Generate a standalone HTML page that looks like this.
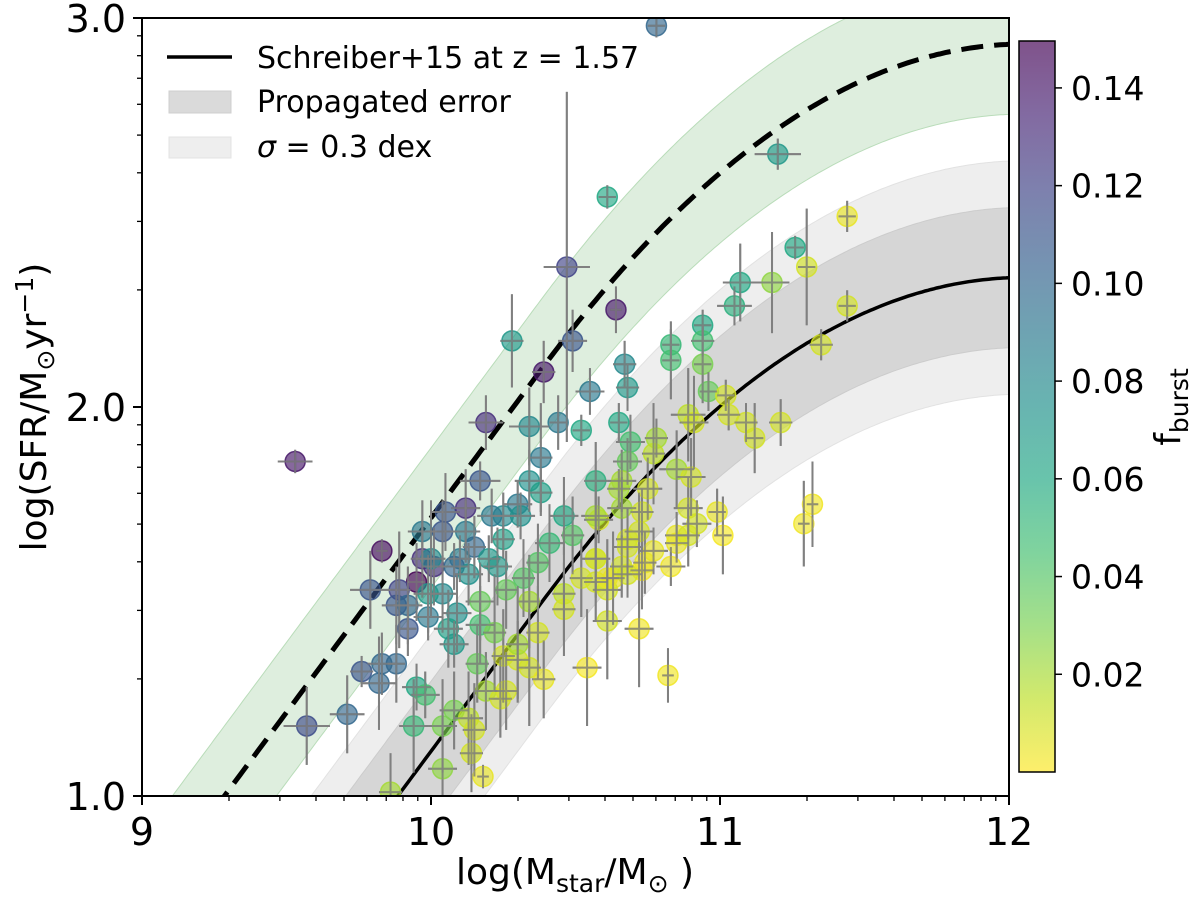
<!DOCTYPE html>
<html><head><meta charset="utf-8"><style>
html,body{margin:0;padding:0;background:#fff;overflow:hidden;width:1200px;height:907px;}
svg{display:block;font-family:"DejaVu Sans","Liberation Sans",sans-serif;}
</style></head><body>
<svg id="chart" width="1200" height="907" viewBox="0 0 1200 907" xmlns="http://www.w3.org/2000/svg">
<defs>
<clipPath id="plotclip"><rect x="142" y="18" width="867" height="778"/></clipPath>
<linearGradient id="cbgrad" x1="0" y1="1" x2="0" y2="0"></linearGradient>
</defs>
<g id="bands" clip-path="url(#plotclip)"></g>
<g id="curves" clip-path="url(#plotclip)"></g>
<g id="errs" clip-path="url(#plotclip)"></g>
<g id="pts" clip-path="url(#plotclip)"></g>
<rect x="142" y="18" width="867" height="778" fill="none" stroke="#000" stroke-width="2"/>
<g id="axes"></g>
<g id="legend">
  <line x1="167" y1="57" x2="232" y2="57" stroke="#000" stroke-width="3.5"/>
  <text x="257" y="68" font-size="30">Schreiber+15 at z = 1.57</text>
  <rect x="169" y="91" width="62" height="22" fill="#dadada" stroke="#cfcfcf"/>
  <text x="257" y="112" font-size="30">Propagated error</text>
  <rect x="169" y="137" width="62" height="21" fill="#eeeeee" stroke="#e3e3e3"/>
  <text x="257" y="157" font-size="30"><tspan font-style="italic">σ</tspan> = 0.3 dex</text>
</g>
<text x="575" y="884" font-size="36" text-anchor="middle">log(M<tspan font-size="25" dy="8">star</tspan><tspan dy="-8">/M</tspan><tspan font-size="25" dy="8">⊙</tspan><tspan dy="-8"> )</tspan></text>
<text transform="translate(46,407) rotate(-90)" font-size="36" text-anchor="middle">log(SFR/M<tspan font-size="25" dy="8">⊙</tspan><tspan dy="-8">yr</tspan><tspan font-size="25" dy="-13">−1</tspan><tspan dy="13">)</tspan></text>
<g id="cbar"></g>
<text transform="translate(1180,407) rotate(-90)" font-size="36" text-anchor="middle">f<tspan font-size="25" dy="8">burst</tspan></text>
</svg>
<script>
// ---- data ----
const mass = [10.78,10.61,11.20,10.47,10.64,10.28,10.49,10.39,10.67,10.68,10.55,11.44,11.26,11.30,11.18,11.07,11.05,11.44,11.35,10.94,10.94,10.94,10.83,10.83,10.96,10.19,10.34,10.44,10.52,10.65,10.38,10.17,10.34,10.38,10.30,10.25,10.31,10.25,10.57,10.69,10.68,11.02,11.03,11.09,11.12,11.21,10.89,10.91,10.78,10.77,10.85,10.90,10.75,10.73,10.89,10.99,10.92,11.01,10.85,11.32,11.29,10.58,10.65,10.72,10.68,10.77,10.83,10.73,10.57,10.63,10.72,10.82,10.61,10.85,10.89,10.61,10.68,10.05,10.12,10.21,9.97,10.04,10.12,10.15,10.10,10.20,9.97,10.01,10.08,10.13,10.23,9.95,9.89,9.88,9.92,10.04,10.09,9.99,9.92,10.06,10.08,10.17,10.17,10.22,9.88,10.16,9.95,9.98,9.94,10.04,10.08,10.13,10.15,10.19,10.24,10.26,10.14,10.04,10.18,10.25,10.30,10.34,10.39,10.30,10.37,10.26,10.32,10.37,10.41,10.46,10.49,10.34,10.46,10.46,10.52,10.57,10.57,10.61,10.54,10.57,10.66,10.66,10.68,10.66,10.74,9.86,9.53,9.83,9.79,9.76,9.83,9.82,9.71,9.57,10.00,9.99];
const sfr = [2.98,2.54,2.65,2.36,2.25,2.17,2.17,2.09,2.11,2.05,2.04,2.49,2.41,2.36,2.32,2.32,2.26,2.26,2.16,2.21,2.17,2.11,2.16,2.12,2.04,1.96,1.95,1.96,1.94,1.96,1.87,1.81,1.81,1.78,1.75,1.72,1.72,1.66,1.81,1.91,1.86,2.03,1.98,1.96,1.92,1.96,1.98,1.96,1.92,1.88,1.84,1.82,1.79,1.73,1.74,1.73,1.70,1.67,1.67,1.75,1.70,1.71,1.79,1.68,1.64,1.63,1.59,1.58,1.61,1.56,1.43,1.31,1.45,1.65,1.67,1.53,1.57,1.73,1.74,1.72,1.68,1.68,1.68,1.64,1.61,1.61,1.61,1.59,1.59,1.57,1.59,1.55,1.53,1.49,1.49,1.52,1.47,1.46,1.43,1.43,1.39,1.50,1.44,1.42,1.34,1.34,1.28,1.26,1.18,1.18,1.22,1.20,1.17,1.27,1.25,1.27,1.11,1.07,1.05,1.36,1.35,1.33,1.30,1.39,1.42,1.53,1.56,1.60,1.65,1.72,1.67,1.50,1.52,1.48,1.56,1.61,1.55,1.56,1.33,1.72,1.74,1.81,1.66,1.59,1.60,1.01,1.86,1.63,1.53,1.32,1.34,1.29,1.21,1.18,1.61,1.52];
const fburst = [0.10,0.06,0.07,0.12,0.14,0.07,0.11,0.14,0.08,0.07,0.09,0.005,0.06,0.01,0.025,0.06,0.055,0.01,0.01,0.06,0.045,0.03,0.05,0.045,0.035,0.13,0.08,0.09,0.06,0.06,0.09,0.11,0.075,0.065,0.09,0.08,0.075,0.065,0.055,0.045,0.035,0.01,0.01,0.01,0.01,0.01,0.015,0.01,0.02,0.015,0.02,0.01,0.01,0.01,0.01,0.005,0.01,0.002,0.005,0.003,0.003,0.01,0.02,0.01,0.01,0.005,0.003,0.002,0.01,0.005,0.003,0.003,0.01,0.005,0.01,0.01,0.01,0.11,0.13,0.09,0.09,0.11,0.09,0.10,0.09,0.07,0.13,0.13,0.10,0.075,0.07,0.15,0.12,0.11,0.10,0.08,0.075,0.09,0.11,0.065,0.07,0.035,0.045,0.03,0.10,0.035,0.06,0.045,0.05,0.03,0.03,0.015,0.01,0.02,0.01,0.01,0.01,0.025,0.005,0.01,0.01,0.01,0.005,0.02,0.01,0.035,0.04,0.04,0.05,0.06,0.04,0.02,0.015,0.01,0.01,0.01,0.01,0.005,0.002,0.02,0.02,0.02,0.01,0.01,0.005,0.02,0.14,0.145,0.11,0.11,0.10,0.10,0.10,0.115,0.08,0.07];
const massErr = [0.03,0.03,0.08,0.08,0.02,0.04,0.05,0.04,0.04,0.04,0.05,0.03,0.03,0.03,0.06,0.06,0.06,0.03,0.04,0.03,0.04,0.03,0.03,0.03,0.03,0.06,0.07,0.03,0.03,0.03,0.04,0.07,0.05,0.04,0.05,0.05,0.05,0.04,0.04,0.05,0.05,0.03,0.04,0.04,0.03,0.04,0.06,0.05,0.04,0.04,0.06,0.05,0.05,0.04,0.05,0.03,0.05,0.03,0.04,0.02,0.02,0.05,0.04,0.05,0.05,0.05,0.05,0.04,0.05,0.04,0.05,0.02,0.05,0.04,0.04,0.05,0.05,0.05,0.05,0.05,0.05,0.05,0.05,0.04,0.04,0.04,0.04,0.04,0.05,0.05,0.05,0.03,0.04,0.05,0.05,0.05,0.05,0.05,0.03,0.05,0.05,0.05,0.05,0.04,0.03,0.04,0.05,0.05,0.05,0.05,0.05,0.05,0.04,0.04,0.04,0.04,0.04,0.05,0.02,0.04,0.04,0.04,0.04,0.04,0.04,0.04,0.04,0.04,0.05,0.05,0.04,0.04,0.04,0.04,0.04,0.04,0.04,0.04,0.05,0.05,0.05,0.05,0.04,0.04,0.04,0.04,0.06,0.02,0.07,0.04,0.05,0.06,0.06,0.08,0.05,0.05];
const sfrErr = [0.03,0.03,0.04,0.45,0.06,0.12,0.08,0.08,0.06,0.06,0.06,0.04,0.03,0.15,0.13,0.10,0.05,0.04,0.04,0.04,0.04,0.10,0.04,0.10,0.05,0.07,0.10,0.07,0.04,0.05,0.14,0.05,0.08,0.06,0.06,0.06,0.06,0.05,0.10,0.07,0.06,0.04,0.04,0.05,0.09,0.06,0.12,0.12,0.05,0.13,0.10,0.10,0.08,0.06,0.08,0.06,0.06,0.10,0.06,0.11,0.11,0.06,0.05,0.10,0.10,0.06,0.05,0.10,0.08,0.12,0.15,0.07,0.15,0.05,0.08,0.08,0.06,0.10,0.10,0.07,0.08,0.08,0.08,0.08,0.06,0.06,0.10,0.10,0.06,0.08,0.10,0.10,0.15,0.10,0.10,0.10,0.10,0.06,0.07,0.10,0.06,0.10,0.10,0.15,0.10,0.10,0.06,0.06,0.12,0.12,0.10,0.12,0.12,0.10,0.10,0.10,0.10,0.15,0.03,0.12,0.10,0.15,0.10,0.15,0.12,0.10,0.10,0.10,0.10,0.10,0.10,0.12,0.12,0.12,0.10,0.10,0.10,0.10,0.15,0.08,0.08,0.08,0.08,0.08,0.08,0.10,0.03,0.03,0.10,0.04,0.08,0.12,0.10,0.10,0.15,0.10];
const xTicks = [9,10,11,12];
const xTickLabels = ["9","10","11","12"];
const yTicks = [1,2,3];
const yTickLabels = ["1.0","2.0","3.0"];
const cbTicks = [0.02,0.04,0.06,0.08,0.10,0.12,0.14];
const cbTickLabels = ["0.02","0.04","0.06","0.08","0.10","0.12","0.14"];
const redshift = [1.57];
const offsetDashed = [0.6];
const sigmaProp = [0.18];
const sigmaScatter = [0.3];

// ---- scales ----
const X0=142, X1=1009, Y0=796, Y1=18;
const xs = m => X0 + (m-9)/(12-9)*(X1-X0);
const ys = s => Y0 - (s-1)/(3-1)*(Y0-Y1);
const yc = s => ys(Math.max(0.9, Math.min(3.1, s)));
const CB_TOP=41, CB_BOT=772, CB_MIN=0, CB_MAX=0.1496;
const cbs = v => CB_BOT - (v-CB_MIN)/(CB_MAX-CB_MIN)*(CB_BOT-CB_TOP);
const NS="http://www.w3.org/2000/svg";
function mk(tag, attrs, parent){const e=document.createElementNS(NS,tag);for(const k in attrs)e.setAttribute(k,attrs[k]);parent.appendChild(e);return e;}

const vir=[[68,1,84],[72,36,117],[65,68,135],[53,95,141],[42,120,142],[33,145,140],[34,168,132],[68,191,112],[122,209,81],[189,223,38],[253,231,37]];
function viridis(t){t=Math.max(0,Math.min(1,t));const p=t*10,i=Math.min(9,Math.floor(p)),f=p-i;const a=vir[i],b=vir[i+1];return `rgb(${Math.round(a[0]+(b[0]-a[0])*f)},${Math.round(a[1]+(b[1]-a[1])*f)},${Math.round(a[2]+(b[2]-a[2])*f)})`;}
const fcol = v => viridis(1-(v-CB_MIN)/(CB_MAX-CB_MIN));

// Schreiber+15 main sequence
function ms(M){const r=Math.log10(1+redshift[0]);const m=M-9;return m-0.5+1.5*r-0.3*Math.pow(Math.max(0,m-0.36-2.5*r),2);}
const grid=[];for(let M=8.95;M<=12.001;M+=0.01)grid.push(M);
function bandPath(off,lo,hi){let d="";grid.forEach((M,i)=>{d+=(i?"L":"M")+xs(M).toFixed(1)+","+yc(ms(M)+off+hi).toFixed(1);});for(let i=grid.length-1;i>=0;i--){d+="L"+xs(grid[i]).toFixed(1)+","+yc(ms(grid[i])+off+lo).toFixed(1);}return d+"Z";}
function linePath(off){return grid.map((M,i)=>(i?"L":"M")+xs(M).toFixed(1)+","+yc(ms(M)+off).toFixed(1)).join("");}

const bands=document.getElementById('bands');
let e;
e=mk('path',{d:bandPath(0,-sigmaScatter[0],sigmaScatter[0]),fill:"#eeeeee",stroke:"#e2e2e2","stroke-width":1},bands);


e=mk('path',{d:bandPath(0,-sigmaProp[0],sigmaProp[0]),fill:"#d6d6d6",stroke:"#cccccc","stroke-width":1},bands);


e=mk('path',{d:bandPath(offsetDashed[0],-sigmaProp[0],sigmaProp[0]),fill:"#deeede",stroke:"#b9dcb9","stroke-width":1},bands);



const curves=document.getElementById('curves');
e=mk('path',{d:linePath(0),fill:"none",stroke:"#000","stroke-width":3.5},curves);


e=mk('path',{d:linePath(offsetDashed[0]),fill:"none",stroke:"#000","stroke-width":5,"stroke-dasharray":"22,11"},curves);



const errs=document.getElementById('errs'), pts=document.getElementById('pts');
for(let i=0;i<mass.length;i++){
  const cx=xs(mass[i]), cy=ys(sfr[i]);
  const g=mk('g',{},errs);
  
  
  mk('line',{x1:xs(mass[i]-massErr[i]),x2:xs(mass[i]+massErr[i]),y1:cy,y2:cy,stroke:"#808080","stroke-width":2},g);
  mk('line',{x1:cx,x2:cx,y1:yc(sfr[i]-sfrErr[i]),y2:yc(sfr[i]+sfrErr[i]),stroke:"#808080","stroke-width":2},g);
}
for(let i=0;i<mass.length;i++){
  const c=fcol(fburst[i]);
  const p=mk('circle',{cx:xs(mass[i]),cy:ys(sfr[i]),r:10,fill:c,"fill-opacity":0.65,stroke:c,"stroke-opacity":0.85,"stroke-width":1.5},pts);
  
  
}
for(let i=0;i<mass.length;i++){
  const cx=xs(mass[i]), cy=ys(sfr[i]);
  const g=mk('g',{opacity:0.75},pts);
  
  
  mk('line',{x1:xs(mass[i]-massErr[i]),x2:xs(mass[i]+massErr[i]),y1:cy,y2:cy,stroke:"#808080","stroke-width":2},g);
  mk('line',{x1:cx,x2:cx,y1:yc(sfr[i]-sfrErr[i]),y2:yc(sfr[i]+sfrErr[i]),stroke:"#808080","stroke-width":2},g);
}

// axes
const axes=document.getElementById('axes');
xTicks.forEach((t,i)=>{
  e=mk('line',{x1:xs(t),x2:xs(t),y1:Y0,y2:Y0+9,stroke:"#000","stroke-width":2},axes);
  
  
  e=mk('text',{x:xs(t),y:845,"font-size":38,"text-anchor":"middle"},axes);e.textContent=xTickLabels[i];
  
  
});
for(let d=9;d<12;d++)for(let k=2;k<10;k++){const v=d+Math.log10(k);
  e=mk('line',{x1:xs(v),x2:xs(v),y1:Y0,y2:Y0+5,stroke:"#000","stroke-width":1.3},axes);
  
  }
yTicks.forEach((t,i)=>{
  e=mk('line',{x1:X0-9,x2:X0,y1:ys(t),y2:ys(t),stroke:"#000","stroke-width":2},axes);
  
  
  e=mk('text',{x:126,y:ys(t)+14,"font-size":38,"text-anchor":"end"},axes);e.textContent=yTickLabels[i];
  
  
});
for(let d=1;d<3;d++)for(let k=2;k<10;k++){const v=d+Math.log10(k);
  e=mk('line',{x1:X0-5,x2:X0,y1:ys(v),y2:ys(v),stroke:"#000","stroke-width":1.3},axes);
  
  }

// colorbar
const grad=document.getElementById('cbgrad');
for(let s=0;s<=20;s++){mk('stop',{offset:(s/20),"stop-color":viridis(1-s/20),"stop-opacity":0.68},grad);}
const cb=document.getElementById('cbar');
e=mk('rect',{x:1019,y:CB_TOP,width:36,height:CB_BOT-CB_TOP,fill:"url(#cbgrad)",stroke:"#000","stroke-width":1.5},cb);


cbTicks.forEach((t,i)=>{
  e=mk('line',{x1:1055,x2:1062,y1:cbs(t),y2:cbs(t),stroke:"#000","stroke-width":1.5},cb);
  
  
  e=mk('text',{x:1071,y:cbs(t)+12,"font-size":33},cb);e.textContent=cbTickLabels[i];
  
  
});
</script>
</body></html>
